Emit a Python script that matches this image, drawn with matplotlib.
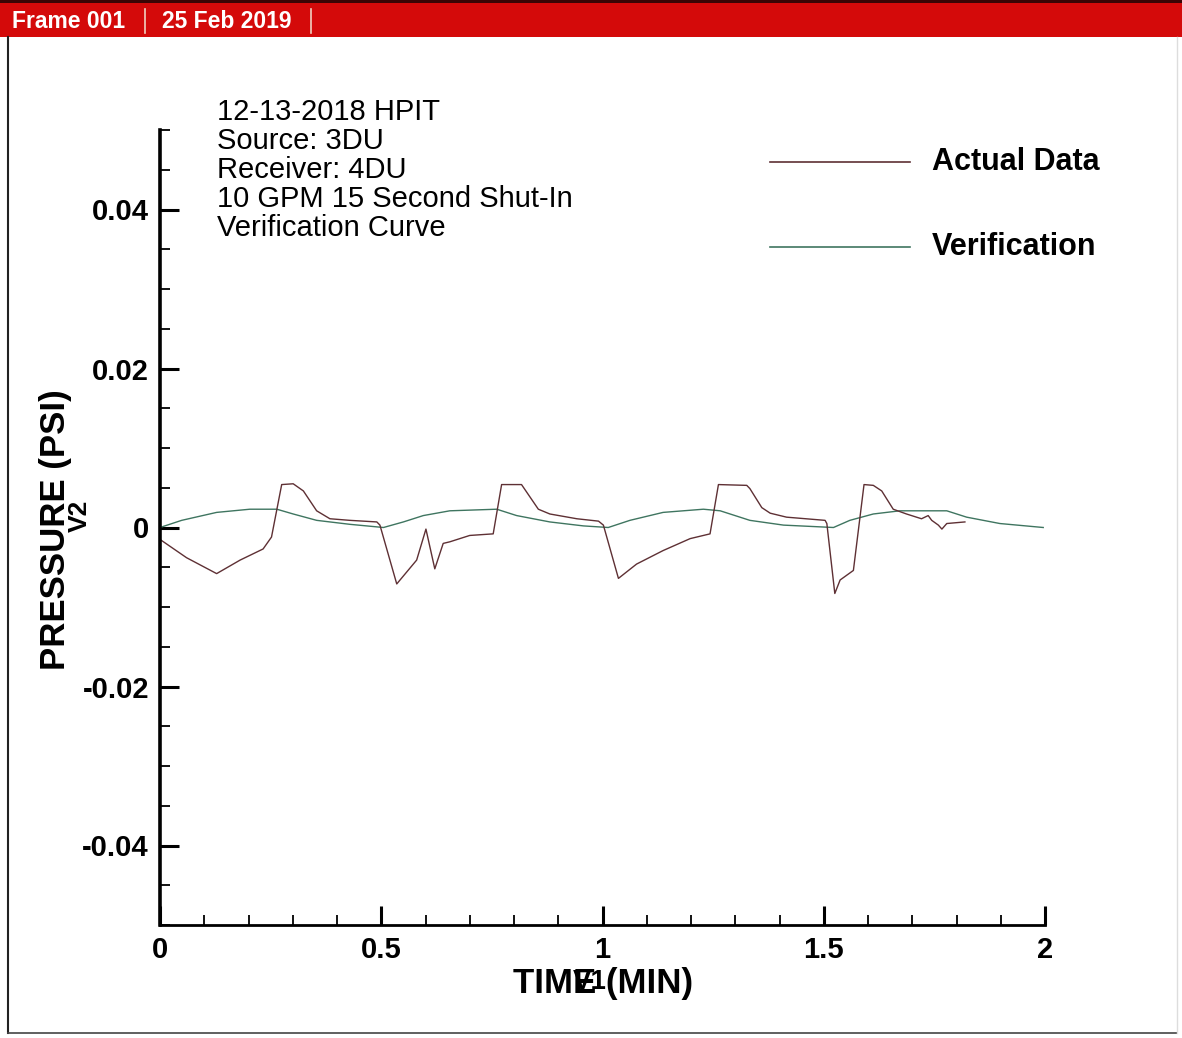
import matplotlib
matplotlib.use("Agg")
import matplotlib.pyplot as plt
from matplotlib.ticker import MultipleLocator, FixedLocator
from matplotlib.patches import Rectangle
from matplotlib.lines import Line2D

plt.rcParams['font.family'] = ['Liberation Sans', 'DejaVu Sans']

# ---- data ----
actual_t = [0.000, 0.060, 0.128, 0.181, 0.233, 0.252, 0.275, 0.301, 0.324, 0.354,
            0.384, 0.429, 0.490, 0.497, 0.535, 0.580, 0.601, 0.621, 0.640, 0.655,
            0.700, 0.753, 0.772, 0.817, 0.855, 0.881, 0.942, 0.991, 1.002, 1.036,
            1.077, 1.137, 1.198, 1.243, 1.262, 1.326, 1.333, 1.360, 1.379, 1.416,
            1.503, 1.507, 1.525, 1.537, 1.567, 1.591, 1.612, 1.631, 1.657, 1.687,
            1.721, 1.736, 1.744, 1.759, 1.767, 1.778, 1.819]
actual_p = [-0.0015, -0.0038, -0.0058, -0.0041, -0.0027, -0.0012, 0.0054, 0.0055, 0.0046, 0.0021,
            0.0011, 0.0009, 0.0007, 0.0003, -0.0071, -0.0041, -0.0002, -0.0052, -0.0020, -0.0018,
            -0.0010, -0.0008, 0.0054, 0.0054, 0.0023, 0.0017, 0.0011, 0.0008, 0.0003, -0.0064,
            -0.0046, -0.0029, -0.0014, -0.0008, 0.0054, 0.0053, 0.0049, 0.0025, 0.0018, 0.0013,
            0.0009, 0.0005, -0.0083, -0.0066, -0.0054, 0.0054, 0.0053, 0.0046, 0.0023, 0.0017,
            0.0011, 0.0015, 0.0009, 0.0003, -0.0002, 0.0005, 0.0007]

verif_t = [0.000, 0.049, 0.128, 0.203, 0.264, 0.301, 0.354, 0.429, 0.505, 0.550,
           0.595, 0.655, 0.761, 0.806, 0.881, 0.957, 1.013, 1.062, 1.137, 1.228,
           1.266, 1.333, 1.409, 1.522, 1.559, 1.612, 1.672, 1.778, 1.823, 1.898, 1.996]
verif_p = [0.0000, 0.0009, 0.0019, 0.0023, 0.0023, 0.0017, 0.0009, 0.0004, 0.0000, 0.0007,
           0.0015, 0.0021, 0.0023, 0.0015, 0.0007, 0.0002, 0.0000, 0.0009, 0.0019, 0.0023,
           0.0021, 0.0009, 0.0003, 0.0000, 0.0009, 0.0017, 0.0021, 0.0021, 0.0013, 0.0005, 0.0000]

x_ticks = [0, 0.5, 1, 1.5, 2]
x_tick_labels = ['0', '0.5', '1', '1.5', '2']
y_ticks = [-0.04, -0.02, 0, 0.02, 0.04]
y_tick_labels = ['-0.04', '-0.02', '0', '0.02', '0.04']
series_names = ['Actual Data', 'Verification']
info_lines = ['12-13-2018 HPIT', 'Source: 3DU', 'Receiver: 4DU',
              '10 GPM 15 Second Shut-In', 'Verification Curve']

W, H = 1182, 1038
fig = plt.figure(figsize=(W / 100, H / 100), dpi=100)
fig.patch.set_facecolor('white')

def fx(px):
    return px / W

def fy(py):
    return 1 - py / H

ax = fig.add_axes([fx(160), fy(925), fx(1045) - fx(160), fy(130) - fy(925)])

c_actual = '#5e3034'
c_verif = '#3f7560'
ax.plot(verif_t, verif_p, color=c_verif, lw=1.0)
ax.plot(actual_t, actual_p, color=c_actual, lw=1.0)

ax.set_xlim(0, 2)
ax.set_ylim(-0.05, 0.05)
for s in ['top', 'right']:
    ax.spines[s].set_visible(False)
ax.spines['left'].set_linewidth(2.6)
ax.spines['bottom'].set_linewidth(2.0)

ax.xaxis.set_major_locator(FixedLocator(x_ticks))
ax.set_xticklabels(x_tick_labels)
ax.xaxis.set_minor_locator(MultipleLocator(0.1))
ax.yaxis.set_major_locator(FixedLocator(y_ticks))
ax.set_yticklabels(y_tick_labels)
ax.yaxis.set_minor_locator(MultipleLocator(0.005))

ax.tick_params(axis='both', which='major', direction='in', length=14, width=2.2,
               labelsize=21, pad=8)
ax.tick_params(axis='both', which='minor', direction='in', length=7, width=1.3)
for lbl in ax.get_xticklabels() + ax.get_yticklabels():
    lbl.set_fontweight('bold')

# axis titles (with the overlapping variable names, as in the source plot)
fig.text(fx(603), fy(983), 'TIME (MIN)', fontsize=25, fontweight='bold',
         ha='center', va='center')
fig.text(fx(590), fy(982), 'V1', fontsize=20, fontweight='bold',
         ha='center', va='center')
fig.text(fx(56), fy(530), 'PRESSURE (PSI)', fontsize=25, fontweight='bold',
         ha='center', va='center', rotation=90)
fig.text(fx(80), fy(516), 'V2', fontsize=19, fontweight='bold',
         ha='center', va='center', rotation=90)

# info text block
for i, line in enumerate(info_lines):
    fig.text(fx(217), fy(112 + i * 29), line, fontsize=21,
             ha='left', va='center')

# legend
leg_y = [162, 247]
leg_c = [c_actual, c_verif]
for name, yy, cc in zip(series_names, leg_y, leg_c):
    fig.add_artist(Line2D([fx(770), fx(910)], [fy(yy), fy(yy)], color=cc, lw=1.2))
    fig.text(fx(932), fy(yy), name, fontsize=22, fontweight='bold',
             ha='left', va='center')

# header bar
fig.add_artist(Rectangle((0, fy(37)), 1, fy(3) - fy(37), transform=fig.transFigure,
                         facecolor='#d40a0a', edgecolor='none'))
fig.add_artist(Rectangle((0, fy(3)), 1, 1 - fy(3), transform=fig.transFigure,
                         facecolor='#3a0505', edgecolor='none'))
fig.text(fx(12), fy(21), 'Frame 001', color='white', fontsize=16.5,
         fontweight='bold', ha='left', va='center')
fig.text(fx(162), fy(21), '25 Feb 2019', color='white', fontsize=16.5,
         fontweight='bold', ha='left', va='center')
for xs in [145, 311]:
    fig.add_artist(Line2D([fx(xs), fx(xs)], [fy(9), fy(33)], color='#f0d0c0', lw=1.2))

# frame border
fig.add_artist(Line2D([fx(8), fx(8)], [fy(37), fy(1033)], color='#222222', lw=1.5))
fig.add_artist(Line2D([fx(8), fx(1177)], [fy(1033), fy(1033)], color='#444444', lw=1.2))
fig.add_artist(Line2D([fx(1177), fx(1177)], [fy(37), fy(1033)], color='#dddddd', lw=1.0))

fig.savefig('out.png', dpi=100, facecolor='white')
